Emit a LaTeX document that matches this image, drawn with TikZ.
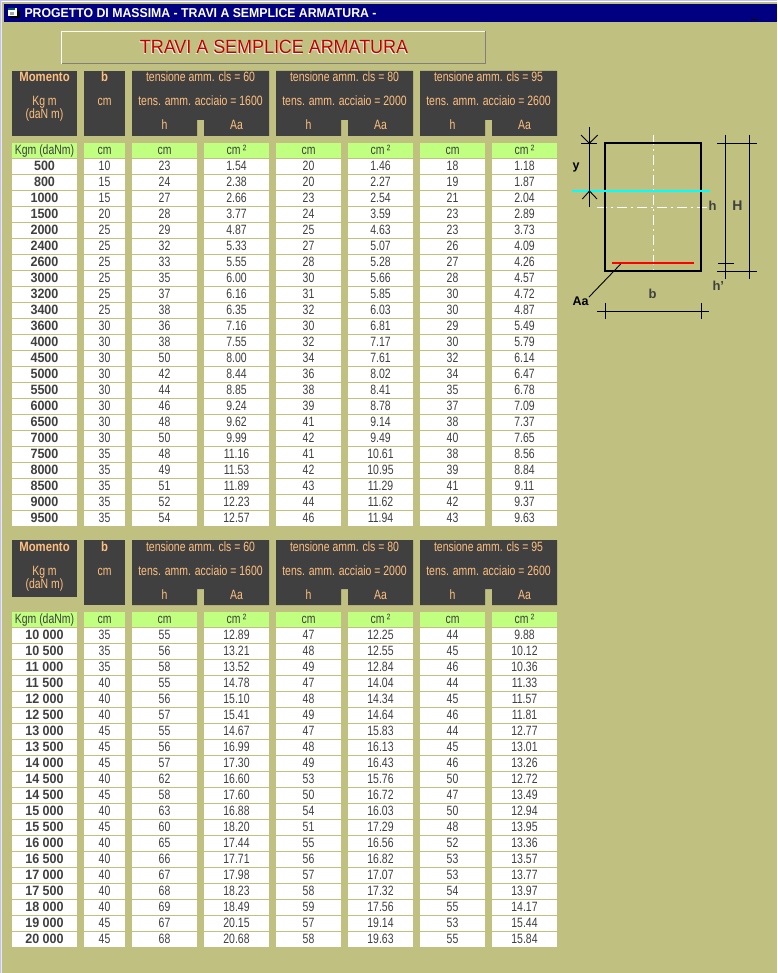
\documentclass[tikz,border=0pt]{standalone}
\usepackage{fontspec}
\usepackage{graphicx}
\setmainfont{Liberation Sans}
\newfontfamily\cellf[FakeStretch=0.775]{Liberation Sans}
\newfontfamily\numbf[FakeStretch=0.93]{Liberation Sans Bold}
\newfontfamily\headbf[FakeStretch=0.84]{Liberation Sans Bold}
\definecolor{wall}{HTML}{C0C080}
\definecolor{dark}{HTML}{404040}
\definecolor{peach}{HTML}{FFC080}
\definecolor{lime}{HTML}{C0FF80}
\definecolor{navy}{HTML}{000080}
\definecolor{lav}{HTML}{C0C0FF}
\definecolor{aqua}{HTML}{00FFFF}
\definecolor{pure}{HTML}{FF0000}
\definecolor{deepred}{HTML}{C00000}
\tikzset{
  x=1pt,y=-1pt,
  cellbase/.style={inner sep=0pt,text height=11.3pt,text depth=3.7pt,anchor=north},
  cellnum/.style={cellbase,fill=white,text=dark,font=\fontsize{13.5}{14}\cellf,minimum width=#1},
  cellbold/.style={cellbase,fill=white,text=dark,font=\fontsize{13.5}{14}\numbf,minimum width=65pt},
  cellunit/.style={cellbase,fill=lime,text=dark,font=\fontsize{13.5}{14}\cellf,minimum width=#1},
  headtxt/.style={inner sep=0pt,anchor=base,text=peach,font=\fontsize{13.5}{14}\cellf},
  headbold/.style={inner sep=0pt,anchor=base,text=peach,font=\fontsize{13.5}{14}\headbf},
  thinline/.style={line width=0.9pt,black},
  axisline/.style={line width=1pt,white,dash pattern=on 10pt off 4pt on 2pt off 4pt},
  dimlabel/.style={inner sep=0pt,anchor=center,text=dark,font=\fontsize{13}{14}\bfseries},
  blacklabel/.style={inner sep=0pt,anchor=center,text=black,font=\fontsize{12.5}{14}\bfseries},
}
% header block: #1 prefix, #2 top y, #3 bottom of first column
\newcommand{\headerblock}[3]{%
  \fill[dark] (12,#2) rectangle (77,#3);
  \fill[dark] (84,#2) rectangle (125,#2+65);
  \foreach \xa/\va/\vb [count=\g] in {132/60/1600,276/80/2000,420/95/2600}{%
    \fill[dark] (\xa,#2) -- (\xa+137,#2) -- (\xa+137,#2+65) -- (\xa+72,#2+65)
      -- (\xa+72,#2+49) -- (\xa+65,#2+49) -- (\xa+65,#2+65) -- (\xa,#2+65) -- cycle;
    \node[headtxt] (#1sig\g) at (\xa+68.5,#2+11) {tensione amm. cls = \va};
    \node[headtxt] (#1acc\g) at (\xa+68.5,#2+35) {tens. amm. acciaio = \vb};
    \node[headtxt] (#1h\g) at (\xa+32.5,#2+59) {h};
    \node[headtxt] (#1a\g) at (\xa+104.5,#2+59) {Aa};
    \node[cellunit=65pt] (#1uh\g) at (\xa+32.5,#2+72) {cm};
    \node[cellunit=65pt] (#1ua\g) at (\xa+104.5,#2+72) {cm\,²};
  }
  \node[headbold] (#1mom) at (44.5,#2+11) {Momento};
  \node[headtxt] (#1kg) at (44.5,#2+35) {Kg m};
  \node[headtxt] (#1da) at (44.5,#2+48) {(daN m)};
  \node[headbold] (#1b) at (104.5,#2+11) {b};
  \node[headtxt] (#1cm) at (104.5,#2+35) {cm};
  \node[cellunit=65pt] (#1u1) at (44.5,#2+72) {Kgm (daNm)};
  \node[cellunit=41pt] (#1u2) at (104.5,#2+72) {cm};
}
% rows: #1 prefix, #2 y of first row, #3 list
\newcommand{\tablerows}[3]{%
  \foreach \m/\b/\ha/\aa/\hb/\ab/\hc/\ac [count=\r from 0] in {#3}{%
    \pgfmathsetmacro{\yy}{#2+16*\r}
    \node[cellbold] (#1m\r) at (44.5,\yy) {\m};
    \node[cellnum=41pt] (#1b\r) at (104.5,\yy) {\b};
    \node[cellnum=65pt] (#1c\r) at (164.5,\yy) {\ha};
    \node[cellnum=65pt] (#1d\r) at (236.5,\yy) {\aa};
    \node[cellnum=65pt] (#1e\r) at (308.5,\yy) {\hb};
    \node[cellnum=65pt] (#1f\r) at (380.5,\yy) {\ab};
    \node[cellnum=65pt] (#1g\r) at (452.5,\yy) {\hc};
    \node[cellnum=65pt] (#1i\r) at (524.5,\yy) {\ac};
  }
}
\begin{document}
\begin{tikzpicture}
\useasboundingbox (0,0) rectangle (777,973);
\fill[wall] (0,0) rectangle (777,973);
% window edges
\fill[lav] (0,0) rectangle (777,1);
\fill[white] (1,1) rectangle (777,2);
\fill[lav] (0,0) rectangle (1,973);
\fill[white!70!wall] (1,1) rectangle (2,973);
% title bar
\fill[navy] (4,4) rectangle (777,22);
\fill[black] (751,19) rectangle (758,20);
\fill[black] (10,11) rectangle (20,18);
\fill[white] (8,8) rectangle (17,16);
\fill[teal!70!black] (8,8) rectangle (15,10);
\fill[black!35] (10,12) rectangle (14,15);
\node[inner sep=0pt,anchor=base west,text=white] (wintitle) at (24.3,17.3)
  {\resizebox{352pt}{9pt}{\bfseries PROGETTO DI MASSIMA - TRAVI A SEMPLICE ARMATURA -}};
% title frame
\draw[white,line width=1pt] (61.5,64) -- (61.5,31.5) -- (486,31.5);
\draw[black!50,line width=1pt] (61.5,63.5) -- (485.5,63.5) -- (485.5,31);
\node[inner sep=0pt,anchor=base,text=deepred] (maintitle) at (274,53.5)
  {\resizebox{268pt}{13.3pt}{\rlap{\kern-0.04em\raisebox{-0.04em}{\textcolor{white}{TRAVI A SEMPLICE ARMATURA}}}TRAVI A SEMPLICE ARMATURA}};
% tables
\headerblock{p}{71}{136}
\tablerows{p}{159}{500/10/23/1.54/20/1.46/18/1.18,
800/15/24/2.38/20/2.27/19/1.87,
1000/15/27/2.66/23/2.54/21/2.04,
1500/20/28/3.77/24/3.59/23/2.89,
2000/25/29/4.87/25/4.63/23/3.73,
2400/25/32/5.33/27/5.07/26/4.09,
2600/25/33/5.55/28/5.28/27/4.26,
3000/25/35/6.00/30/5.66/28/4.57,
3200/25/37/6.16/31/5.85/30/4.72,
3400/25/38/6.35/32/6.03/30/4.87,
3600/30/36/7.16/30/6.81/29/5.49,
4000/30/38/7.55/32/7.17/30/5.79,
4500/30/50/8.00/34/7.61/32/6.14,
5000/30/42/8.44/36/8.02/34/6.47,
5500/30/44/8.85/38/8.41/35/6.78,
6000/30/46/9.24/39/8.78/37/7.09,
6500/30/48/9.62/41/9.14/38/7.37,
7000/30/50/9.99/42/9.49/40/7.65,
7500/35/48/11.16/41/10.61/38/8.56,
8000/35/49/11.53/42/10.95/39/8.84,
8500/35/51/11.89/43/11.29/41/9.11,
9000/35/52/12.23/44/11.62/42/9.37,
9500/35/54/12.57/46/11.94/43/9.63}
\headerblock{q}{540}{597}
\tablerows{q}{628}{10 000/35/55/12.89/47/12.25/44/9.88,
10 500/35/56/13.21/48/12.55/45/10.12,
11 000/35/58/13.52/49/12.84/46/10.36,
11 500/40/55/14.78/47/14.04/44/11.33,
12 000/40/56/15.10/48/14.34/45/11.57,
12 500/40/57/15.41/49/14.64/46/11.81,
13 000/45/55/14.67/47/15.83/44/12.77,
13 500/45/56/16.99/48/16.13/45/13.01,
14 000/45/57/17.30/49/16.43/46/13.26,
14 500/40/62/16.60/53/15.76/50/12.72,
14 500/45/58/17.60/50/16.72/47/13.49,
15 000/40/63/16.88/54/16.03/50/12.94,
15 500/45/60/18.20/51/17.29/48/13.95,
16 000/40/65/17.44/55/16.56/52/13.36,
16 500/40/66/17.71/56/16.82/53/13.57,
17 000/40/67/17.98/57/17.07/53/13.77,
17 500/40/68/18.23/58/17.32/54/13.97,
18 000/40/69/18.49/59/17.56/55/14.17,
19 000/45/67/20.15/57/19.14/53/15.44,
20 000/45/68/20.68/58/19.63/55/15.84}
% beam section
\draw[axisline] (653.5,135) -- (653.5,272);
\draw[axisline] (597,207.5) -- (708,207.5);
\draw[black,line width=2pt] (605.3,143) rectangle (701.3,271);
\draw[aqua,line width=2pt] (572,190.7) -- (710,190.7);
\draw[pure,line width=2pt] (612,262.7) -- (694,262.7);
% y dimension
\draw[thinline] (589.3,127) -- (589.3,206.7);
\draw[thinline] (581,143.3) -- (596.7,143.3);
\draw[thinline] (581,135) -- (589.3,143.3) -- (597.7,135);
\draw[thinline] (582.3,199) -- (589.5,191) -- (597,199);
% H / h / h' dimension
\draw[thinline] (725.3,135) -- (725.3,279);
\draw[thinline] (749.3,135) -- (749.3,279);
\draw[thinline] (717.3,143.3) -- (757,143.3);
\draw[thinline] (717.3,271.3) -- (757,271.3);
\draw[thinline] (718,263.3) -- (734,263.3);
% b dimension
\draw[thinline] (597,311.3) -- (708.7,311.3);
\draw[thinline] (605.3,303) -- (605.3,319);
\draw[thinline] (701.3,303) -- (701.3,319);
% labels
\node[blacklabel] (ly) at (576,167) {y};
\node[dimlabel] (lh) at (712.7,206) {h};
\node[dimlabel,font=\fontsize{14}{14}\bfseries] (lH) at (737.3,206) {H};
\node[dimlabel] (lhp) at (718.3,285.7) {h'};
\node[dimlabel] (lb) at (652.7,293.7) {b};
\node[blacklabel] (lAa) at (580.7,301.7) {Aa};
\coordinate (redend) at (620.7,264);
\draw[thinline] (redend) -- (lAa.north east);
\end{tikzpicture}
\end{document}
